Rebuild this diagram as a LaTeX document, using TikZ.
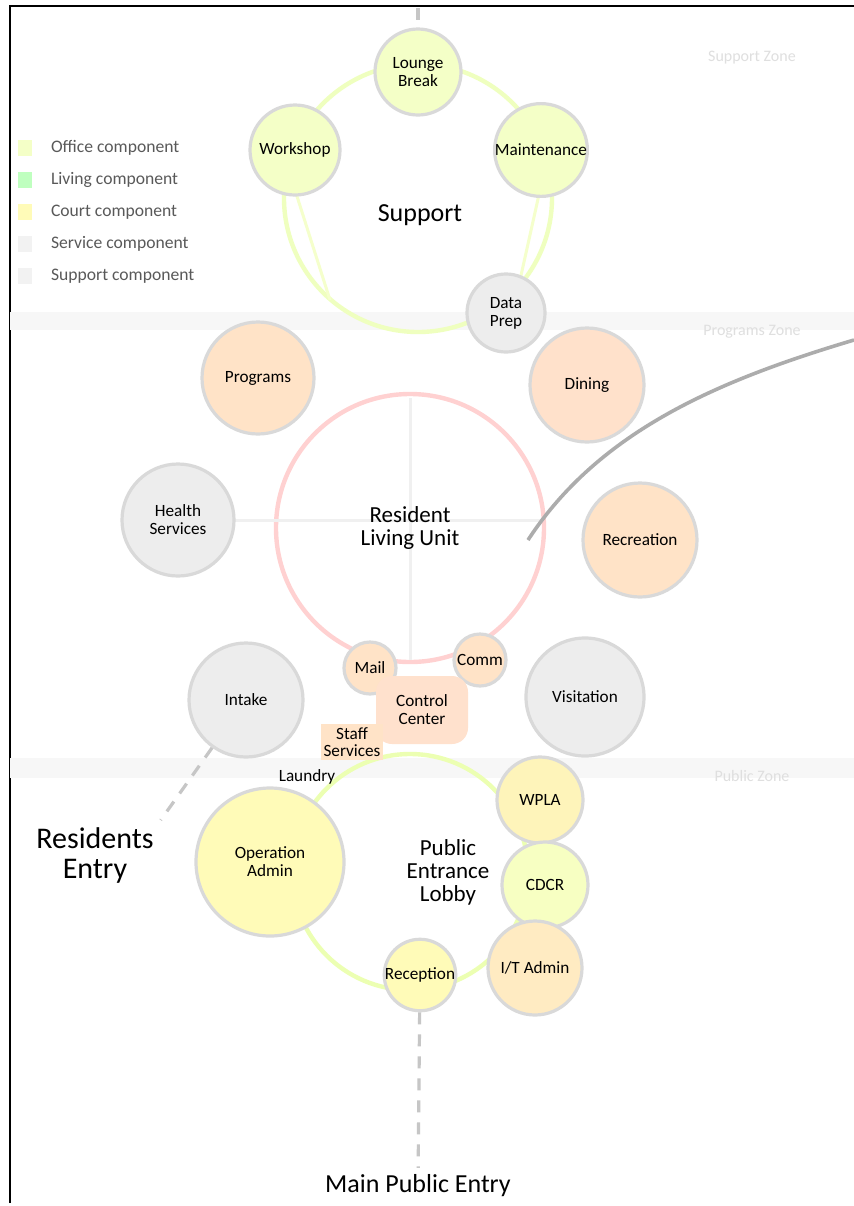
\documentclass[tikz,border=0pt]{standalone}
\usepackage{fontspec}
\setmainfont{Carlito}
\begin{document}
\begin{tikzpicture}[x=0.5pt,y=-0.5pt,
  bub/.style={circle,draw=gray!30,line width=1.6pt,minimum size=#1pt,inner sep=0pt,align=center,font=\fontsize{8.6}{9}\selectfont},
  ring/.style={circle,draw=#1,line width=2.2pt,inner sep=0pt},
  lbl/.style={align=center,font=\fontsize{#1}{#1}\selectfont},
  spoke/.style={draw=#1,line width=1.5pt},
  dashline/.style={draw=gray!45,line width=1.6pt,dash pattern=on 6pt off 5pt},
  leg/.style={anchor=west,font=\fontsize{8.8}{9}\selectfont,text=gray!70!black}]
\useasboundingbox (0,0) rectangle (854,1206);
\fill[white] (0,0) rectangle (854,1206);
\colorlet{cGreen}{green!20!yellow!22}
\colorlet{cPeach}{orange!22}
\colorlet{cGrey}{gray!14}
\colorlet{cYel}{yellow!28}
\colorlet{cPink}{red!14}
% frame
\draw[line width=1.3pt] (10,1203) -- (10,6) -- (854,6);
% faint horizontal bands
\fill[gray!6] (10,312) rectangle (854,330);
\fill[gray!6] (10,758) rectangle (854,778);
% zone labels (faint)
\node[lbl=8,text=gray!25] (z1) at (752,58) {Support Zone};
\node[lbl=8,text=gray!25] (z2) at (752,332) {Programs Zone};
\node[lbl=8,text=gray!25] (z3) at (752,776) {Public Zone};
% legend
\fill[cGreen] (18,140) rectangle (32,156);
\fill[green!25] (18,172) rectangle (32,188);
\fill[cYel] (18,204) rectangle (32,220);
\fill[gray!10] (18,236) rectangle (32,252);
\fill[gray!10] (18,268) rectangle (32,284);
\node[leg] (l1) at (44,148) {Office component};
\node[leg] (l2) at (44,180) {Living component};
\node[leg] (l3) at (44,212) {Court component};
\node[leg] (l4) at (44,244) {Service component};
\node[leg] (l5) at (44,276) {Support component};
% rings
\node[ring=green!25!yellow!25,minimum size=134pt] (sring) at (418,198) {};
\node[ring=red!18,minimum size=134pt] (rring) at (410,528) {};
\node[ring=green!25!yellow!30,minimum size=118pt] (pring) at (410,872) {};
% spokes
\draw[spoke=gray!12] (rring.center) -- (410,398);
\draw[spoke=gray!12] (rring.center) -- (410,660);
\draw[spoke=gray!12] (232,520) -- (540,520);
\draw[spoke=green!20!yellow!20] (295,190) -- (330,300);
\draw[spoke=green!20!yellow!20] (540,190) -- (520,280);
% support satellites
\node[bub=43,fill=cGreen] (lounge) at (418,72) {Lounge\\Break};
\node[bub=45,fill=cGreen] (work) at (295,150) {Workshop};
\node[bub=46,fill=cGreen] (maint) at (541,150) {Maintenance};
\node[lbl=13] (sup) at (420,215) {Support};
\node[bub=39,fill=cGrey] (data) at (506,313) {Data\\Prep};
% programs
\node[bub=56,fill=cPeach] (prog) at (258,378) {Programs};
\node[bub=57,fill=cPeach!80!cPink] (dining) at (587,385) {Dining};
\node[lbl=11.5] (rlu) at (410,528) {Resident\\Living Unit};
\node[bub=56,fill=cGrey] (health) at (178,520) {Health\\Services};
\node[bub=57,fill=cPeach] (recr) at (640,540) {Recreation};
\node[bub=57,fill=cGrey] (intake) at (246,700) {Intake};
\node[bub=59,fill=cGrey] (visit) at (585,697) {Visitation};
\node[bub=26,fill=cPeach] (mail) at (370,668) {Mail};
\node[bub=26,fill=cPeach] (comm) at (480,660) {Comm};
\node[rounded corners=8pt,fill=cPeach!70!cPink,minimum width=46pt,minimum height=34pt,align=center,font=\fontsize{8.6}{9}\selectfont] (ctrl) at (422,710) {Control\\Center};
\node[fill=cPeach,align=center,inner sep=1.5pt,font=\fontsize{8.6}{8.6}\selectfont] (staff) at (352,742) {Staff\\Services};
\node[lbl=8.6] (laundry) at (307,777) {Laundry};
% public zone
\node[bub=74,fill=cYel] (ops) at (270,862) {Operation\\Admin};
\node[lbl=11.5] (lobby) at (448,872) {Public\\Entrance\\Lobby};
\node[bub=43,fill=cYel!70!cPeach] (wpla) at (540,800) {WPLA};
\node[bub=43,fill=cGreen!70!cYel] (cdcr) at (545,885) {CDCR};
\node[bub=47,fill=cPeach!70!cYel] (itadm) at (535,968) {I/T Admin};
\node[bub=33,fill=cYel] (recep) at (420,975) {Reception};
% entries
\node[lbl=15] (rentry) at (95,855) {Residents\\Entry};
\node[lbl=13] (mentry) at (418,1186) {Main Public Entry};
\coordinate (top) at (418,8);
\coordinate (edge) at (854,340);
\draw[dashline] (intake) -- (rentry.north east);
\draw[dashline] (recep) -- (mentry);
\draw[dashline] (top) -- (lounge);
\draw[gray!65,line width=1.8pt] (528,540) .. controls (600,430) and (720,380) .. (edge);
\end{tikzpicture}
\end{document}
